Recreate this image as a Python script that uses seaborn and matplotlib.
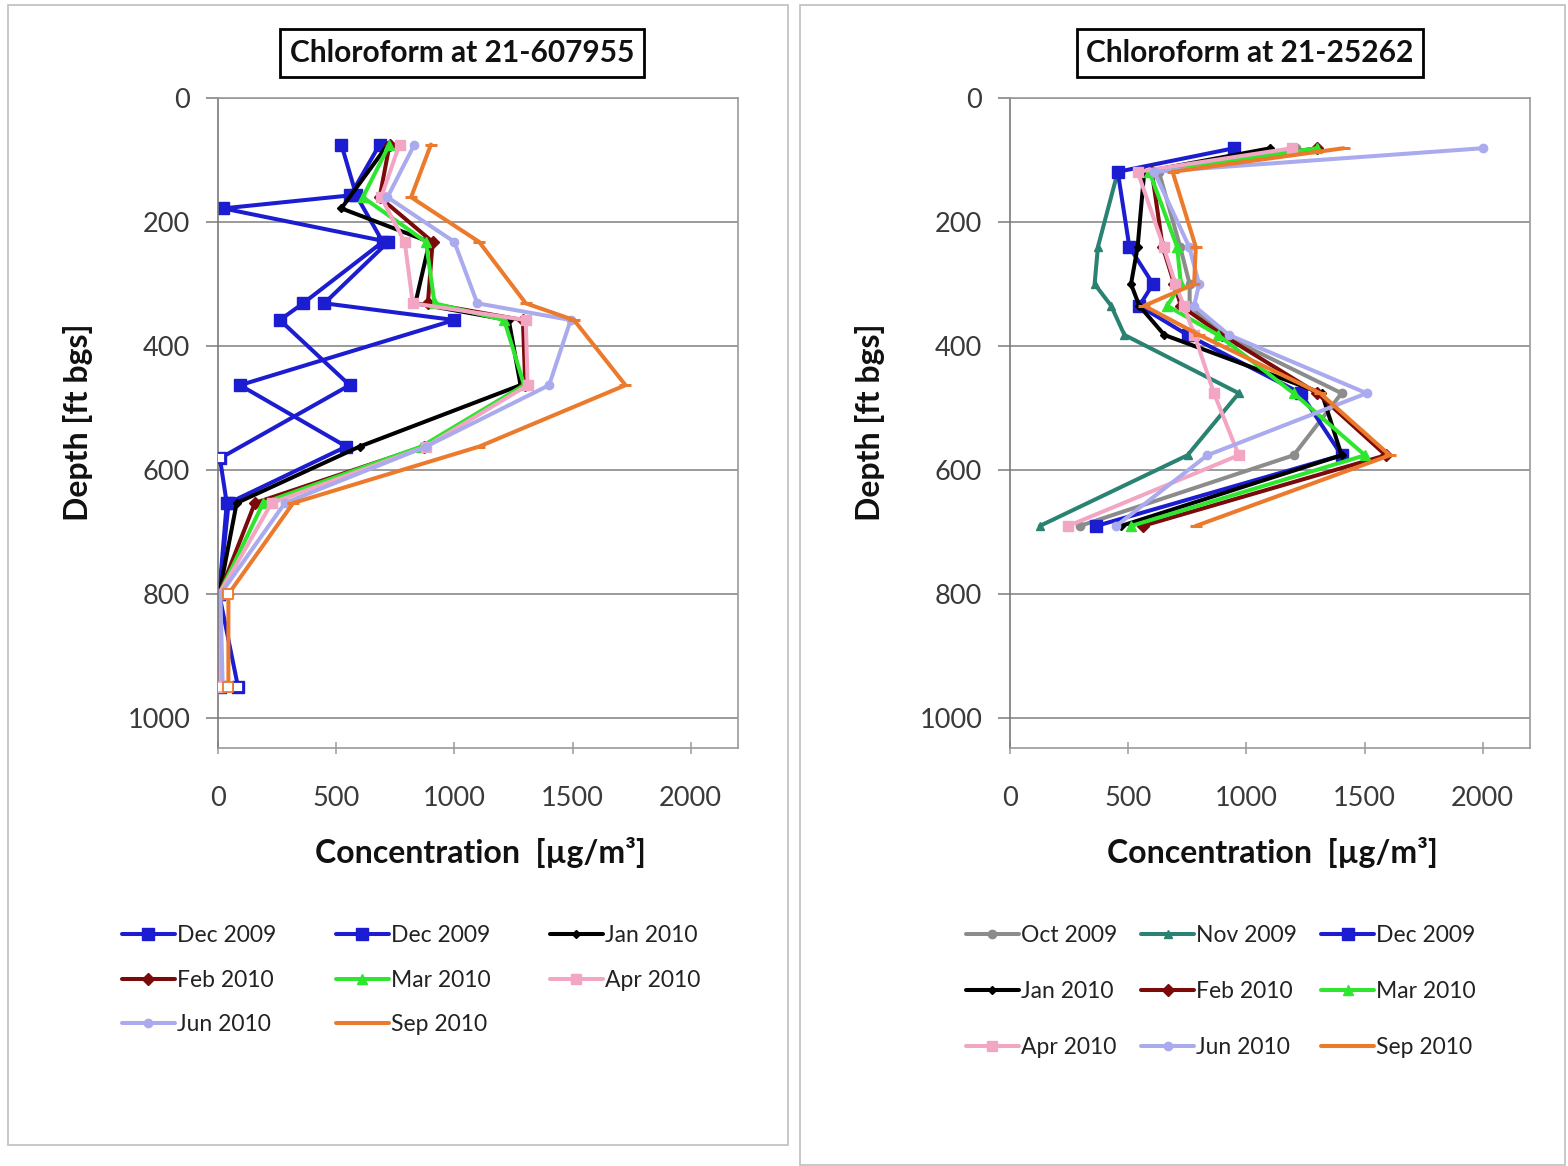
import matplotlib
matplotlib.use("Agg")
import matplotlib.pyplot as plt
from matplotlib.patches import Rectangle
import pandas as pd
import seaborn as sns

# ---------------- data: left panel (21-607955) ----------------
L_dec09a_depth = [75, 157, 232, 331, 358, 463, 581, 653, 800, 950]
L_dec09a_conc = [522, 585, 697, 360, 262, 557, 8, 37, 5, 85]
L_dec09a_open = [581, 950]

L_dec09b_depth = [75, 157, 178, 232, 331, 358, 463, 562, 653, 800, 950]
L_dec09b_conc = [684, 560, 22, 720, 450, 1000, 93, 543, 45, 5, 10]

L_jan10_depth = [75, 178, 232, 331, 358, 463, 562, 653, 800, 950]
L_jan10_conc = [719, 522, 895, 835, 1230, 1280, 599, 79, 5, 10]

L_depth = [75, 160, 232, 331, 358, 463, 562, 653, 800, 950]
L_feb10_conc = [726, 684, 908, 888, 1290, 1300, 870, 156, 5, 10]
L_mar10_conc = [725, 613, 880, 916, 1211, 1295, 860, 191, 5, 10]
L_apr10_conc = [768, 690, 790, 824, 1302, 1310, 880, 227, 5, 8]
L_jun10_conc = [831, 717, 1000, 1097, 1492, 1401, 880, 283, 10, 20]
L_sep10_conc = [901, 817, 1105, 1302, 1506, 1724, 1105, 318, 44, 44]
L_apr10_open = [950]
L_sep10_open = [800, 950]

# ---------------- data: right panel (21-25262) ----------------
R_depth = [81, 119, 240, 300, 335, 382, 476, 576, 690]
R_oct09_conc = [1210, 630, 720, 760, 760, 900, 1403, 1200, 295]
R_nov09_depth = [119, 240, 300, 335, 382, 476, 576, 690]
R_nov09_conc = [456, 372, 358, 428, 484, 968, 751, 126]
R_dec09_conc = [947, 456, 505, 605, 547, 751, 1230, 1403, 365]
R_jan10_conc = [1102, 568, 540, 512, 547, 653, 1319, 1403, 470]
R_feb10_conc = [1300, 600, 646, 695, 723, 898, 1300, 1590, 561]
R_mar10_conc = [1298, 590, 707, 723, 665, 880, 1200, 1502, 512]
R_apr10_conc = [1193, 540, 650, 700, 735, 780, 863, 968, 246]
R_jun10_conc = [2000, 610, 758, 800, 779, 926, 1509, 835, 449]
R_sep10_conc = [1411, 688, 786, 779, 568, 800, 1312, 1607, 786]

x_ticks = [0, 500, 1000, 1500, 2000]
y_ticks = [0, 200, 400, 600, 800, 1000]

# ---------------- styles ----------------
C_BLUE = "#1c1cd0"
C_BLACK = "#000000"
C_DRED = "#7b0a0a"
C_GREEN = "#2ee62e"
C_PINK = "#f2a6c4"
C_LAV = "#aaaaee"
C_ORANGE = "#ec7a2c"
C_GRAY = "#8c8c8c"
C_TEAL = "#2a8272"

left_series = [
    ("Dec 2009", L_dec09a_depth, L_dec09a_conc, C_BLUE, "s", 8, L_dec09a_open),
    ("Dec 2009", L_dec09b_depth, L_dec09b_conc, C_BLUE, "s", 8, []),
    ("Jan 2010", L_jan10_depth, L_jan10_conc, C_BLACK, "D", 4, []),
    ("Feb 2010", L_depth, L_feb10_conc, C_DRED, "D", 6, []),
    ("Mar 2010", L_depth, L_mar10_conc, C_GREEN, "^", 7, []),
    ("Apr 2010", L_depth, L_apr10_conc, C_PINK, "s", 7, L_apr10_open),
    ("Jun 2010", L_depth, L_jun10_conc, C_LAV, "o", 6, []),
    ("Sep 2010", L_depth, L_sep10_conc, C_ORANGE, "_", 9, L_sep10_open),
]

right_series = [
    ("Oct 2009", R_depth, R_oct09_conc, C_GRAY, "o", 6, []),
    ("Nov 2009", R_nov09_depth, R_nov09_conc, C_TEAL, "^", 6, []),
    ("Dec 2009", R_depth, R_dec09_conc, C_BLUE, "s", 8, []),
    ("Jan 2010", R_depth, R_jan10_conc, C_BLACK, "D", 4, []),
    ("Feb 2010", R_depth, R_feb10_conc, C_DRED, "D", 6, []),
    ("Mar 2010", R_depth, R_mar10_conc, C_GREEN, "^", 7, []),
    ("Apr 2010", R_depth, R_apr10_conc, C_PINK, "s", 7, []),
    ("Jun 2010", R_depth, R_jun10_conc, C_LAV, "o", 6, []),
    ("Sep 2010", R_depth, R_sep10_conc, C_ORANGE, "_", 9, []),
]

sns.set_style("white")
plt.rcParams["font.family"] = ["Lato", "DejaVu Sans"]

W, H = 1568, 1166
fig = plt.figure(figsize=(W / 100, H / 100), dpi=100)


def fx(px):
    return px / W


def fy(py):
    return 1 - py / H


# panel frames
fig.patches.append(Rectangle((fx(8), fy(1145)), fx(788) - fx(8), fy(5) - fy(1145),
                             transform=fig.transFigure, fill=False,
                             edgecolor="#c4c4c4", linewidth=1.3))
fig.patches.append(Rectangle((fx(800), fy(1165)), fx(1565) - fx(800), fy(5) - fy(1165),
                             transform=fig.transFigure, fill=False,
                             edgecolor="#c4c4c4", linewidth=1.3))


def draw_panel(x0_px, series, title, title_cx, leg_x_px, leg_row_sp, leg_col_sp):
    ax = fig.add_axes([fx(x0_px), fy(748), 520 / W, (748 - 98) / H])
    handles, labels = [], []
    for lab, dep, conc, col, mk, ms, opened in series:
        df = pd.DataFrame({"depth": dep, "conc": conc})
        mew = 2.2 if mk == "_" else 1.0
        sns.lineplot(data=df, x="conc", y="depth", sort=False, estimator=None,
                     color=col, linewidth=2.9, marker=mk, markersize=ms,
                     markeredgecolor=col, markeredgewidth=mew, ax=ax,
                     legend=False)
        handles.append(ax.lines[-1])
        labels.append(lab)
        if opened:
            sub = df[df["depth"].isin(opened)]
            sns.scatterplot(data=sub, x="conc", y="depth", marker="s", s=55,
                            facecolor="white", edgecolor=col, linewidth=1.3,
                            ax=ax, legend=False, zorder=5)
    ax.set_xlim(0, 2200)
    ax.set_ylim(1048, 0)
    ax.set_xticks(x_ticks)
    ax.set_yticks(y_ticks)
    ax.set_xlabel("")
    ax.set_ylabel("")
    ax.yaxis.grid(True, color="#8a8a8a", linewidth=1.2)
    ax.xaxis.grid(False)
    ax.set_axisbelow(True)
    for s in ax.spines.values():
        s.set_color("#9a9a9a")
        s.set_linewidth(1.2)
    ax.spines["left"].set_color("#7a7a7a")
    ax.tick_params(axis="y", direction="out", length=9, width=1.1, color="#7a7a7a",
                   pad=11, labelsize=19.5, labelcolor="#3a3a3a", left=True)
    ax.tick_params(axis="x", direction="inout", length=9, width=1.1, color="#9a9a9a",
                   pad=23, labelsize=19.5, labelcolor="#3a3a3a", bottom=True)
    # title box
    fig.text(fx(title_cx), fy(53), title, ha="center", va="center", fontsize=21.5,
             fontweight="bold", color="#111111",
             bbox=dict(boxstyle="square,pad=0.32", facecolor="white",
                       edgecolor="black", linewidth=2))
    # axis labels
    fig.text(fx(x0_px - 140), fy(422), "Depth [ft bgs]", rotation=90, ha="center",
             va="center", fontsize=23, fontweight="bold", color="#111111")
    fig.text(fx(x0_px + 262), fy(853), "Concentration  [µg/m³]", ha="center",
             va="center", fontsize=23, fontweight="bold", color="#111111")
    # legend, row-major order in 3 columns
    n = len(handles)
    order = [i for c in range(3) for i in range(c, n, 3)]
    fig.legend([handles[i] for i in order], [labels[i] for i in order],
               loc="upper left", bbox_to_anchor=(fx(leg_x_px), fy(925)),
               ncol=3, frameon=False, fontsize=16.5, handlelength=2.3,
               handletextpad=0.1, columnspacing=leg_col_sp,
               labelspacing=leg_row_sp, borderpad=0, borderaxespad=0,
               labelcolor="#222222")
    return ax


draw_panel(218, left_series, "Chloroform at 21-607955", 462, 122, 1.03, 2.6)
draw_panel(1010, right_series, "Chloroform at 21-25262", 1250, 966, 1.53, 1.05)

fig.savefig("out.png", dpi=100, facecolor="white")
